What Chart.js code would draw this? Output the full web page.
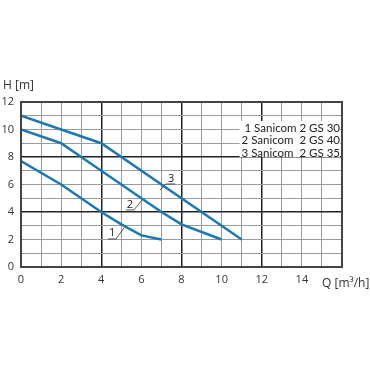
<!DOCTYPE html>
<html>
<head>
<meta charset="utf-8">
<script src="https://cdn.jsdelivr.net/npm/chart.js@4.4.0/dist/chart.umd.min.js"></script>
<style>
    html, body { margin: 0; padding: 0; background: #fff; }
    #wrap { width: 370px; height: 370px; }
</style>
</head>
<body>
<div id="wrap"><canvas id="pumpChart" width="370" height="370"></canvas></div>
<script>
// Pump curves, Q [m3/h] vs H [m]
const curve1 = [[0, 7.7], [2, 6], [4, 4], [5, 3.1], [6, 2.3], [7, 2.0]];
const curve2 = [[0, 10], [2, 9], [3, 8], [4, 7], [7, 4], [8, 3.1], [10, 2.0]];
const curve3 = [[0, 11], [2, 10], [4, 9], [8, 5], [11, 2.0]];

const legendLines = ['1 Sanicom 2 GS 30', '2 Sanicom  2 GS 40', '3 Sanicom  2 GS 35'];
const curveTags = ['1', '2', '3'];
// tag text position, underline ends, leader end (data units)
const tagText = [[4.54, 2.47], [5.43, 4.55], [7.48, 6.4]];
const tagLine = [
    [[4.34, 2.04], [4.74, 2.04], [5.13, 2.84]],
    [[5.23, 4.15], [5.63, 4.15], [6.03, 4.87]],
    [[7.68, 6.04], [7.23, 6.04], [6.93, 5.6]]
];

const xMax = 16;
const yMax = 12;
const lineColor = '#1b78b4';
const font = '"Open Sans", "Noto Sans", sans-serif';

function toPoints(arr) {
    return arr.map(p => ({ x: p[0], y: p[1] }));
}

function gridColor(ctx) {
    return ctx.tick.value % 4 === 0 ? '#222' : '#9a9a9a';
}
function gridWidth(ctx) {
    return ctx.tick.value % 4 === 0 ? 1.5 : 1;
}

// Extra text: axis titles, legend box, curve tags
const annotations = {
    id: 'annotations',
    afterDraw(chart) {
        const { ctx, scales: { x, y } } = chart;
        ctx.save();
        ctx.fillStyle = '#333';
        ctx.font = '12px ' + font;
        ctx.textBaseline = 'middle';
        ctx.textAlign = 'left';
        ctx.fillText('H [m]', 3, 86);
        ctx.fillText('Q [m³/h]', 322, 284);

        // legend box, sized to the widest line
        ctx.font = '11.5px Lato, sans-serif';
        const w = Math.max(...legendLines.map(t => ctx.measureText(t).width));
        ctx.fillStyle = '#fff';
        ctx.fillRect(340 - w - 2, 121, w + 2, 36);
        ctx.fillStyle = '#222';
        ctx.textAlign = 'right';
        legendLines.forEach((t, i) => {
            ctx.fillText(t, 340, 128 + i * 12.5);
        });

        // curve tags
        ctx.font = '11px ' + font;
        ctx.textAlign = 'center';
        ctx.strokeStyle = '#333';
        ctx.lineWidth = 0.8;
        curveTags.forEach((t, i) => {
            ctx.fillText(t, x.getPixelForValue(tagText[i][0]), y.getPixelForValue(tagText[i][1]));
            ctx.beginPath();
            tagLine[i].forEach((p, j) => {
                const px = x.getPixelForValue(p[0]);
                const py = y.getPixelForValue(p[1]);
                if (j === 0) ctx.moveTo(px, py); else ctx.lineTo(px, py);
            });
            ctx.stroke();
        });

        // frame
        ctx.strokeStyle = '#444';
        ctx.lineWidth = 2;
        const a = chart.chartArea;
        ctx.strokeRect(a.left, a.top, a.right - a.left, a.bottom - a.top);
        ctx.restore();
    }
};

const datasets = [curve1, curve2, curve3].map((c, i) => ({
    label: curveTags[i],
    data: toPoints(c),
    borderColor: lineColor,
    borderWidth: 2.5,
    pointRadius: 0,
    fill: false,
    tension: 0
}));

new Chart(document.getElementById('pumpChart'), {
    type: 'line',
    data: { datasets },
    options: {
        responsive: false,
        animation: false,
        layout: { padding: { top: 102, right: 28, left: 0, bottom: 0 } },
        plugins: {
            legend: { display: false },
            tooltip: { enabled: false }
        },
        scales: {
            x: {
                type: 'linear',
                min: 0,
                max: xMax,
                afterFit(scale) { scale.height = 103; },
                ticks: {
                    stepSize: 1,
                    autoSkip: false,
                    maxRotation: 0,
                    padding: 6,
                    color: '#333',
                    font: { family: font, size: 11 },
                    callback: v => (v % 2 === 0 && v < xMax) ? v : ''
                },
                grid: { color: gridColor, lineWidth: gridWidth, drawTicks: false },
                border: { color: '#444', width: 2 }
            },
            y: {
                min: 0,
                max: yMax,
                afterFit(scale) { scale.width = 21; },
                ticks: {
                    stepSize: 1,
                    autoSkip: false,
                    padding: 7,
                    color: '#333',
                    font: { family: font, size: 11 },
                    callback: v => v % 2 === 0 ? v : ''
                },
                grid: { color: gridColor, lineWidth: gridWidth, drawTicks: false },
                border: { color: '#444', width: 2 }
            }
        }
    },
    plugins: [annotations]
});
</script>
</body>
</html>
